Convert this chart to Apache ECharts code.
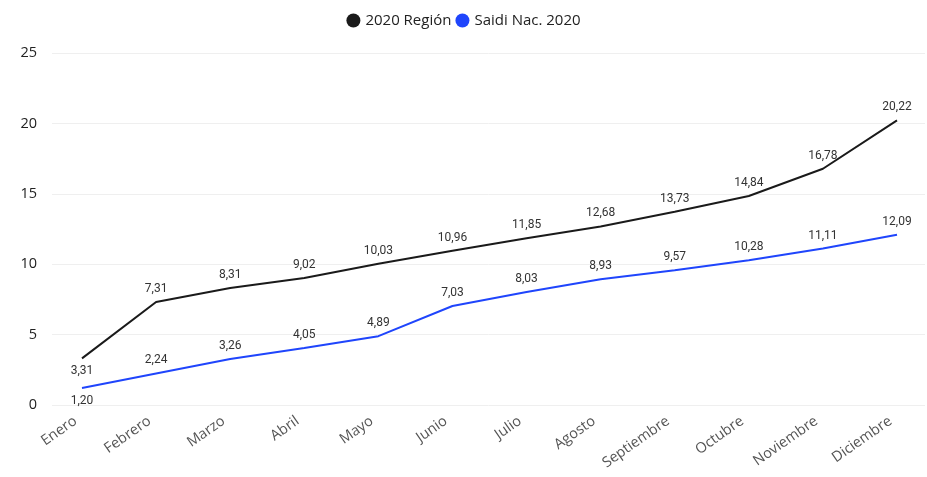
<!DOCTYPE html>
<html>
<head>
<meta charset="utf-8">
<script src="https://cdn.jsdelivr.net/npm/echarts@6/dist/echarts.min.js"></script>
<style>
  html, body { margin: 0; padding: 0; background: #fff; }
  #chart { width: 927px; height: 477px; }
</style>
</head>
<body>
<div id="chart"></div>
<script>
const months = ['Enero', 'Febrero', 'Marzo', 'Abril', 'Mayo', 'Junio', 'Julio', 'Agosto', 'Septiembre', 'Octubre', 'Noviembre', 'Diciembre']
const region2020 = [3.31, 7.31, 8.31, 9.02, 10.03, 10.96, 11.85, 12.68, 13.73, 14.84, 16.78, 20.22]
const saidiNac2020 = [1.20, 2.24, 3.26, 4.05, 4.89, 7.03, 8.03, 8.93, 9.57, 10.28, 11.11, 12.09]

const BLACK = '#1a1a1a'
const BLUE = '#1f45fc'
const FONT = 'Open Sans'

const fmt = (v) => v.toFixed(2).replace('.', ',')

// first point labels sit under the line, the rest above
function withLabels(values) {
  return values.map((v, i) => ({
    value: v,
    label: { position: i === 0 ? 'bottom' : 'top' },
  }))
}

function lineSeries(name, values, color) {
  return {
    name,
    type: 'line',
    xAxisIndex: 1,
    yAxisIndex: 1,
    data: withLabels(values),
    showSymbol: true,
    symbol: 'circle',
    symbolSize: 0,
    itemStyle: { color },
    lineStyle: { color, width: 2 },
    label: {
      show: true,
      distance: 7,
      color: '#333',
      fontSize: 12,
      fontFamily: 'Roboto',
      formatter: (p) => fmt(p.value),
    },
    labelLayout: { hideOverlap: false },
  }
}

const chart = echarts.init(document.getElementById('chart'), null, { renderer: 'canvas' })

chart.setOption({
  backgroundColor: '#fff',
  animation: false,
  textStyle: { fontFamily: FONT },
  legend: {
    top: 8,
    left: 'center',
    itemWidth: 14,
    itemHeight: 14,
    itemGap: 4,
    icon: 'circle',
    textStyle: { color: '#222', fontSize: 15, fontFamily: FONT },
    data: ['2020 Región', 'Saidi Nac. 2020'],
  },
  grid: [
    // background grid for the value axis and gridlines
    { left: 52, right: 2, top: 53, bottom: 72 },
    // plot grid for the lines
    { left: 82, right: 30, top: 53, bottom: 72 },
  ],
  xAxis: [
    { type: 'value', gridIndex: 0, show: false, min: 0, max: 1 },
    {
      type: 'category',
      gridIndex: 1,
      data: months,
      boundaryGap: false,
      axisLine: { show: false },
      axisTick: { show: false },
      axisLabel: {
        color: '#555',
        fontSize: 14.5,
        fontFamily: FONT,
        rotate: 35,
        margin: 10,
        padding: [0, 8, 0, 0],
        interval: 0,
      },
    },
  ],
  yAxis: [
    {
      type: 'value',
      gridIndex: 0,
      min: 0,
      max: 25,
      interval: 5,
      axisLine: { show: false },
      axisTick: { show: false },
      axisLabel: { color: '#222', fontSize: 14.5, fontFamily: FONT, margin: 15 },
      splitLine: { lineStyle: { color: '#efefef', width: 1 } },
    },
    { type: 'value', gridIndex: 1, min: 0, max: 25, show: false, splitLine: { show: false } },
  ],
  series: [
    lineSeries('2020 Región', region2020, BLACK),
    lineSeries('Saidi Nac. 2020', saidiNac2020, BLUE),
  ],
})
</script>
</body>
</html>
